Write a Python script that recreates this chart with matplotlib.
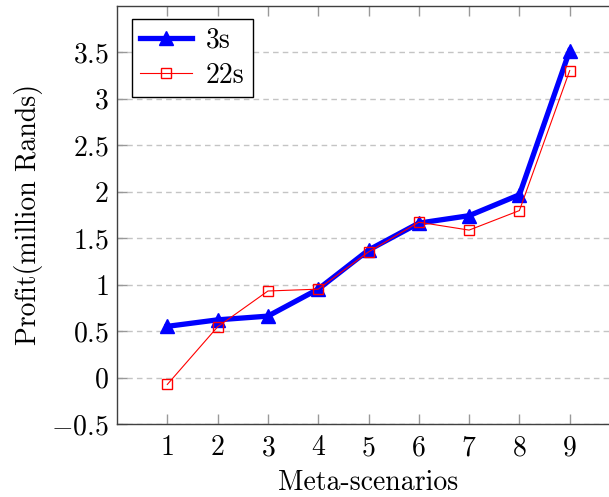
import matplotlib
matplotlib.use("Agg")
import matplotlib.pyplot as plt
from matplotlib.ticker import FuncFormatter

# profit per meta-scenario, million Rands
scenarios = [1, 2, 3, 4, 5, 6, 7, 8, 9]
profit_3s = [0.55, 0.62, 0.66, 0.95, 1.37, 1.66, 1.74, 1.965, 3.515]
profit_22s = [-0.075, 0.545, 0.93, 0.95, 1.35, 1.67, 1.585, 1.795, 3.30]
profit_ticks = [-0.5, 0, 0.5, 1, 1.5, 2, 2.5, 3, 3.5]

plt.rcParams['font.family'] = 'serif'
plt.rcParams['font.serif'] = ['cmr10']
plt.rcParams['mathtext.fontset'] = 'cm'
plt.rcParams['axes.formatter.use_mathtext'] = True
plt.rcParams['font.size'] = 20

fig = plt.figure(figsize=(6.09, 4.97), dpi=100)
# axes run past the right edge of the canvas
ax = fig.add_axes([117 / 609, 1 - 424 / 497, 503 / 609, 418.5 / 497])

ax.plot(scenarios, profit_3s, color='#0000ff', lw=3.8, marker='^', ms=10,
        label='3s', zorder=3)
ax.plot(scenarios, profit_22s, color='#ff0000', lw=0.8, marker='s', ms=7.5,
        mfc='none', mec='#ff0000', mew=1.0, label='22s', zorder=4)

ax.set_xlim(0, 10)
ax.set_ylim(-0.5, 4.0)
ax.set_xticks(scenarios)
ax.set_yticks(profit_ticks)
ax.yaxis.set_major_formatter(FuncFormatter(lambda v, _: '$%g$' % v))
ax.xaxis.set_major_formatter(FuncFormatter(lambda v, _: '$%d$' % v))

ax.grid(axis='y', color='#c4c4c4', lw=1.0, ls=(0, (4, 3)))
ax.set_axisbelow(True)
ax.tick_params(direction='in', length=7, width=1.0, color='#999999',
               top=True, right=True, pad=6)
ax.tick_params(axis='x', pad=8)
for s in ax.spines.values():
    s.set_color('#404040')
    s.set_linewidth(1.0)

ax.set_xlabel('Meta-scenarios', labelpad=6)
ax.set_ylabel('Profit(million Rands)', labelpad=6)

leg = ax.legend(loc='upper left', bbox_to_anchor=(0.03, 0.967), fancybox=False,
                framealpha=1, edgecolor='black', handlelength=1.85,
                borderpad=0.3, labelspacing=0.3, handletextpad=0.5,
                borderaxespad=0)
leg.get_frame().set_linewidth(1.0)

fig.savefig('out.png', dpi=100)
